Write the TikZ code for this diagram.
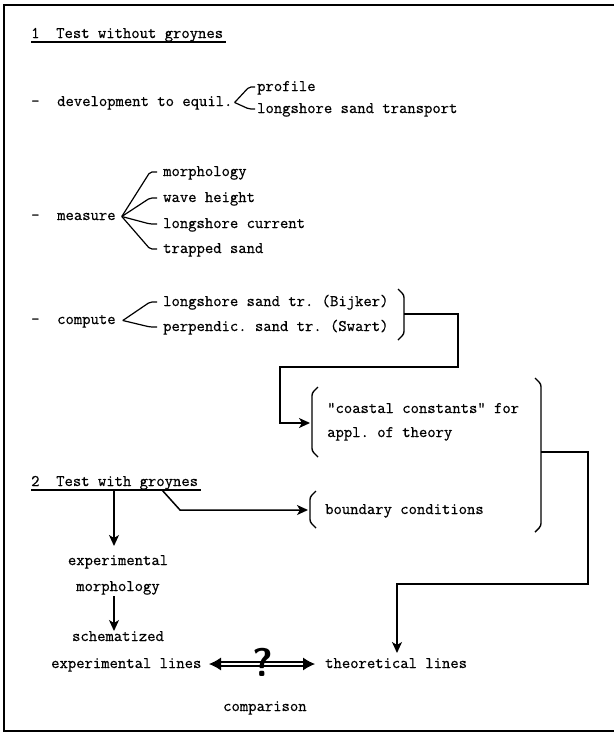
\documentclass[tikz,border=0pt]{standalone}
\usepackage{fontspec}
\setmonofont[FakeBold=0.6]{Latin Modern Mono}
\usetikzlibrary{arrows.meta}
\begin{document}
\begin{tikzpicture}[x=1pt,y=-1pt,
  txt/.style={font=\ttfamily\frenchspacing\fontsize{16.2}{18}\selectfont, inner sep=0pt, anchor=base west},
  ctxt/.style={txt, anchor=base},
  brk/.style={line width=1.2pt, rounded corners=2pt},
  brc/.style={line width=1.4pt, rounded corners=2.5pt},
  con/.style={line width=1.5pt},
  arr/.style={con, -{Stealth[length=11pt,width=10pt,inset=3pt]}},
  uline/.style={line width=1.1pt},
  frame/.style={line width=1.8pt}
]
\useasboundingbox (0,0) rectangle (614,734);
\draw[frame] (614,5) -- (4,5) -- (4,731) -- (614,731);

% ---------- 1 Test without groynes
\node[txt] (h1) at (31,38) {1~~Test without groynes};
\draw[uline] ([yshift=-4pt]h1.base west) -- ([xshift=3pt,yshift=-4pt]h1.base east);

\node[txt] (d1) at (31,106) {-};
\node[txt] (dev) at (57,106) {development to equil.};
\node[txt] (prof) at (257,91) {profile};
\node[txt] (lst) at (257,113) {longshore sand transport};
\foreach \n in {prof,lst}
  \draw[brk] ([xshift=2pt,yshift=3.5pt]dev.base east) -- ([xshift=-8pt,yshift=4pt]\n.base west) -- ([xshift=-2pt,yshift=4pt]\n.base west);

\node[txt] (d2) at (31,220) {-};
\node[txt] (meas) at (57,220) {measure};
\node[txt] (mo) at (163,176) {morphology};
\node[txt] (wh) at (163,202) {wave height};
\node[txt] (lc) at (163,228) {longshore current};
\node[txt] (ts) at (163,253) {trapped sand};
\foreach \n in {mo,wh,lc,ts}
  \draw[brk] ([xshift=6pt,yshift=3.5pt]meas.base east) -- ([xshift=-13pt,yshift=4pt]\n.base west) -- ([xshift=-6pt,yshift=4pt]\n.base west);

\node[txt] (d3) at (31,324) {-};
\node[txt] (comp) at (57,324) {compute};
\node[txt] (bij) at (163,306) {longshore sand tr. (Bijker)};
\node[txt] (swa) at (163,331) {perpendic. sand tr. (Swart)};
\foreach \n in {bij,swa}
  \draw[brk] ([xshift=7pt,yshift=3.5pt]comp.base east) -- ([xshift=-13pt,yshift=4pt]\n.base west) -- ([xshift=-6pt,yshift=4pt]\n.base west);

% brace after compute items
\draw[brc] (398,289) -- (404,295) -- (404,334) -- (398,340);
\coordinate (b1) at (404,314);

% ---------- coastal constants
\node[txt] (cc) at (327,413) {"coastal constants" for};
\node[txt] (ap) at (327,437) {appl. of theory};
\draw[brc] (318,387) -- (312,393) -- (312,451) -- (318,457);
\coordinate (lb1) at (310,423);

\draw[arr] (b1) -- (458,314) -- (458,367) -- (280,367) -- (280,423) -- (lb1);

% ---------- boundary conditions
\node[txt] (bc) at (325,514) {boundary conditions};
\draw[brc] (316,491) -- (310,497) -- (310,522) -- (316,528);
\coordinate (lb2) at (308,510);

% big brace
\draw[brc] (535,378) -- (541,384) -- (541,526) -- (535,532);
\coordinate (b2) at (541,452);

% ---------- 2 Test with groynes
\node[txt] (h2) at (31,486) {2~~Test with groynes};
\draw[uline] ([yshift=-4pt]h2.base west) -- ([xshift=3pt,yshift=-4pt]h2.base east);
\coordinate (u1) at (114,490);
\coordinate (u2) at (162,490);

\node[ctxt] (ex1) at (118,565) {experimental};
\node[ctxt] (mo2) at (118,591) {morphology};
\node[ctxt] (sch) at (118,641) {schematized};
\node[txt] (el) at (51,668) {experimental lines};
\node[txt] (tl) at (325,668) {theoretical lines};
\node[txt] (cmp) at (223,711) {comparison};

\coordinate (a1) at (114,546);
\draw[arr] (u1) -- (a1);
\draw[arr] (u2) -- (180,510) -- (lb2);
\coordinate (a2s) at (114,596);
\coordinate (a2e) at (114,631);
\draw[arr] (a2s) -- (a2e);

\coordinate (tltop) at (397,653);
\draw[arr] (b2) -- (588,452) -- (588,584) -- (397,584) -- (tltop);

% double arrow (comparison)
\coordinate (L) at (209,664);
\coordinate (R) at (315,664);
\draw[line width=6.4pt, shorten <=9pt, shorten >=9pt] (L) -- (R);
\draw[white, line width=2.8pt, shorten <=8pt, shorten >=8pt] (L) -- (R);
\draw[line width=1pt, {Latex[length=12pt,width=13pt]}-] (L) -- ([xshift=11pt]L);
\draw[line width=1pt, -{Latex[length=12pt,width=13pt]}] ([xshift=-11pt]R) -- (R);
\node[font=\sffamily\bfseries\fontsize{40}{40}\selectfont, inner sep=0pt] (q) at (263,662) {?};
\end{tikzpicture}
\end{document}
